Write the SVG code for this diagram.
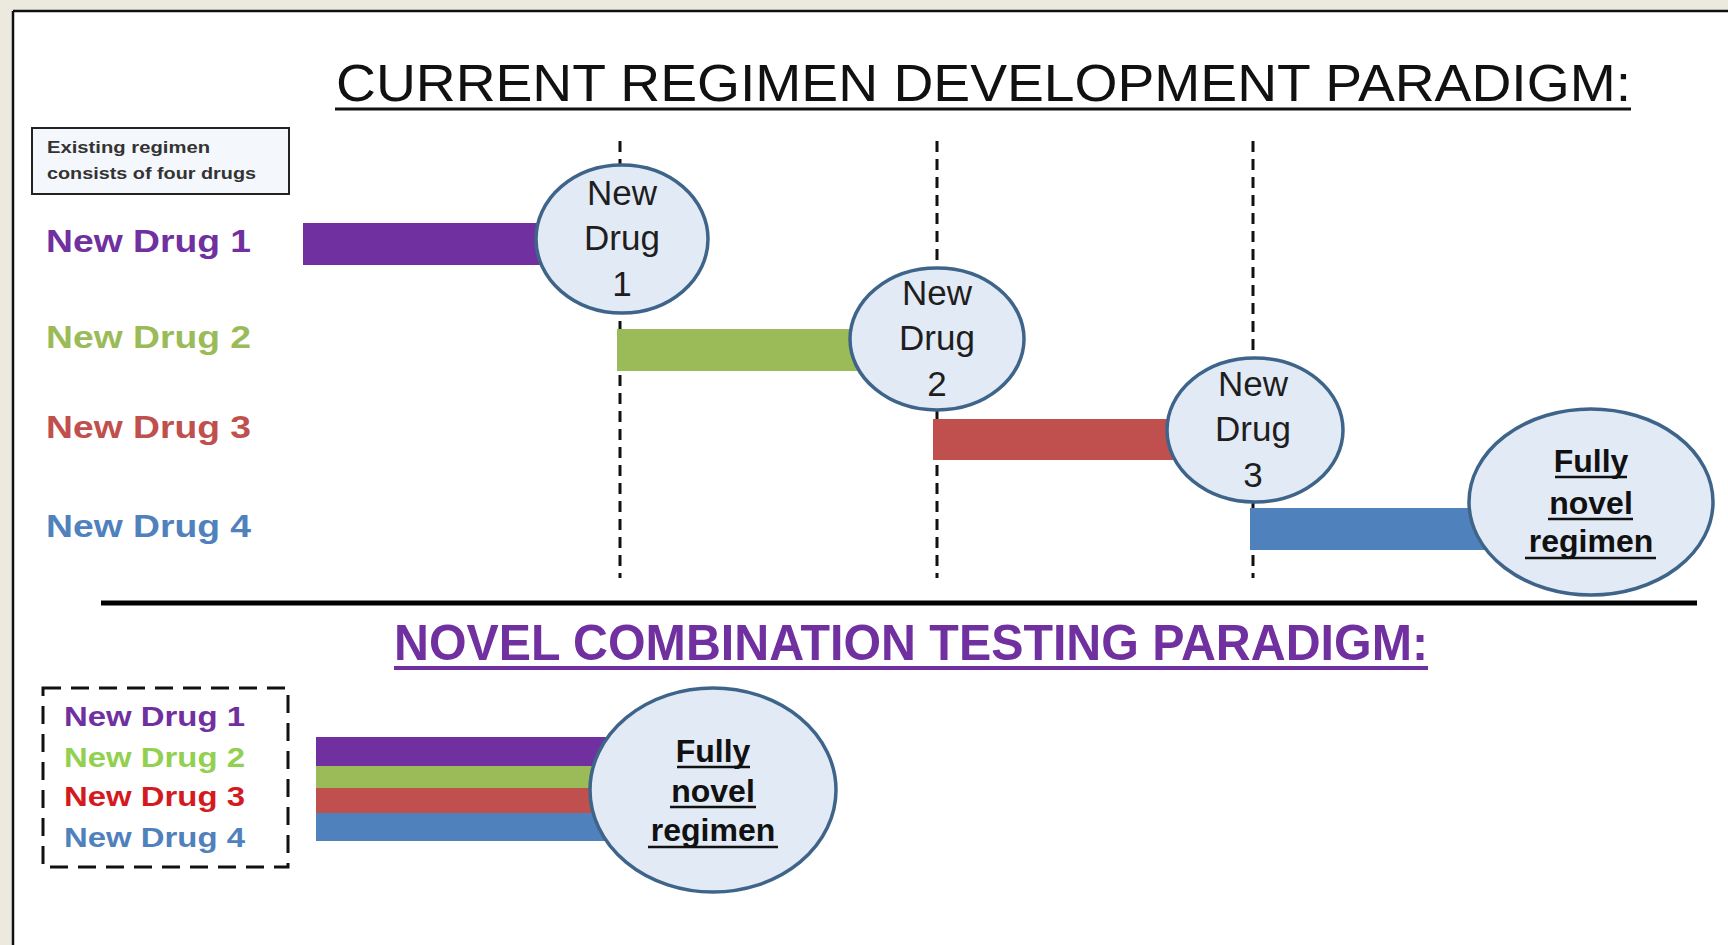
<svg xmlns="http://www.w3.org/2000/svg" width="1728" height="945" viewBox="0 0 1728 945">
  <style>
    .title { font-family: "Liberation Sans", Arial, sans-serif; font-size: 52px; fill: #111; }
    .title2 { font-family: "Liberation Sans", Arial, sans-serif; font-size: 50px; font-weight: bold; fill: #7030a0; }
    .lbl { font-family: "Liberation Sans", Arial, sans-serif; font-size: 32px; font-weight: bold; }
    .lbl-s { font-family: "Liberation Sans", Arial, sans-serif; font-size: 27px; font-weight: bold; }
    .note { font-family: "Liberation Sans", Arial, sans-serif; font-size: 17px; font-weight: bold; fill: #333; }
    .ctext { font-family: "Liberation Sans", Arial, sans-serif; font-size: 35px; fill: #1e1e1e; text-anchor: middle; }
    .ftext { font-family: "Liberation Sans", Arial, sans-serif; font-size: 32px; font-weight: bold; fill: #111; text-anchor: middle; }
    .ul { stroke: #111; stroke-width: 2.5; }
    .circle { fill: #e2eaf5; stroke: #3f6489; stroke-width: 3.5; }
    .guide { stroke: #111; stroke-width: 3; stroke-dasharray: 11 7; fill: none; }
    .c1 { fill: #7030a0; }
    .c2 { fill: #9bbb59; }
    .c3 { fill: #c0504d; }
    .c4 { fill: #4f81bd; }
  </style>

  <!-- page background and frame -->
  <rect x="0" y="0" width="1728" height="945" fill="#ece9de"/>
  <rect x="13" y="11" width="1715" height="934" fill="#ffffff"/>
  <line x1="13" y1="11" x2="1728" y2="11" stroke="#111" stroke-width="2.5"/>
  <line x1="13" y1="11" x2="13" y2="945" stroke="#111" stroke-width="2.5"/>

  <!-- upper section heading -->
  <g id="title-current">
    <text class="title" x="336" y="101" textLength="1295" lengthAdjust="spacingAndGlyphs">CURRENT REGIMEN DEVELOPMENT PARADIGM:</text>
    <line x1="335" y1="109" x2="1631" y2="109" stroke="#111" stroke-width="3"/>
  </g>

  <g id="note-existing">
    <rect x="32" y="128" width="257" height="66" fill="#f4f7fb" stroke="#222" stroke-width="2"/>
    <text class="note" x="47" y="153" textLength="163" lengthAdjust="spacingAndGlyphs">Existing regimen</text>
    <text class="note" x="47" y="179" textLength="209" lengthAdjust="spacingAndGlyphs">consists of four drugs</text>
  </g>

  <!-- row labels -->
  <g id="labels-sequential">
    <text class="lbl" x="46" y="252" fill="#7030a0" textLength="205" lengthAdjust="spacingAndGlyphs">New Drug 1</text>
    <text class="lbl" x="46" y="348" fill="#9bbb59" textLength="205" lengthAdjust="spacingAndGlyphs">New Drug 2</text>
    <text class="lbl" x="46" y="438" fill="#c0504d" textLength="205" lengthAdjust="spacingAndGlyphs">New Drug 3</text>
    <text class="lbl" x="46" y="537" fill="#4f81bd" textLength="205" lengthAdjust="spacingAndGlyphs">New Drug 4</text>
  </g>

  <!-- stage boundaries -->
  <g id="connectors">
    <line class="guide" x1="620" y1="141" x2="620" y2="578"/>
    <line class="guide" x1="937" y1="141" x2="937" y2="578"/>
    <line class="guide" x1="1253" y1="141" x2="1253" y2="578"/>
  </g>

  <!-- sequential drug bars -->
  <g id="bars-sequential">
    <rect class="c1" x="303" y="223" width="260" height="42"/>
    <rect class="c2" x="617" y="329" width="260" height="42"/>
    <rect class="c3" x="933" y="419" width="260" height="41"/>
    <rect class="c4" x="1250" y="508" width="260" height="42"/>
  </g>

  <g id="node-drug1">
    <ellipse class="circle" cx="622" cy="239" rx="86" ry="74"/>
    <text class="ctext" x="622" y="205">New</text>
    <text class="ctext" x="622" y="250">Drug</text>
    <text class="ctext" x="622" y="296">1</text>
  </g>
  <g id="node-drug2">
    <ellipse class="circle" cx="937" cy="339" rx="87" ry="71"/>
    <text class="ctext" x="937" y="305">New</text>
    <text class="ctext" x="937" y="350">Drug</text>
    <text class="ctext" x="937" y="396">2</text>
  </g>
  <g id="node-drug3">
    <ellipse class="circle" cx="1255" cy="430" rx="88" ry="72"/>
    <text class="ctext" x="1253" y="396">New</text>
    <text class="ctext" x="1253" y="441">Drug</text>
    <text class="ctext" x="1253" y="487">3</text>
  </g>
  <g id="node-regimen-sequential">
    <ellipse class="circle" cx="1591" cy="502" rx="122" ry="93"/>
    <text class="ftext" x="1591" y="472">Fully</text>
    <line class="ul" x1="1555" y1="477" x2="1627" y2="477"/>
    <text class="ftext" x="1591" y="514">novel</text>
    <line class="ul" x1="1548" y1="519" x2="1633" y2="519"/>
    <text class="ftext" x="1591" y="552">regimen</text>
    <line class="ul" x1="1525" y1="558" x2="1656" y2="558"/>
  </g>

  <!-- section divider -->
  <line x1="101" y1="603" x2="1697" y2="603" stroke="#000" stroke-width="5"/>

  <!-- lower section heading -->
  <g id="title-novel">
    <text class="title2" x="394" y="660" textLength="1034" lengthAdjust="spacingAndGlyphs">NOVEL COMBINATION TESTING PARADIGM:</text>
    <line x1="394" y1="668" x2="1428" y2="668" stroke="#7030a0" stroke-width="4"/>
  </g>

  <g id="legend-combination">
    <rect x="43" y="688" width="245" height="179" fill="none" stroke="#111" stroke-width="3" stroke-dasharray="18 10"/>
    <text class="lbl-s" x="64" y="726" fill="#7030a0" textLength="181" lengthAdjust="spacingAndGlyphs">New Drug 1</text>
    <text class="lbl-s" x="64" y="767" fill="#92d050" textLength="181" lengthAdjust="spacingAndGlyphs">New Drug 2</text>
    <text class="lbl-s" x="64" y="806" fill="#d41a1f" textLength="181" lengthAdjust="spacingAndGlyphs">New Drug 3</text>
    <text class="lbl-s" x="64" y="847" fill="#4f81bd" textLength="181" lengthAdjust="spacingAndGlyphs">New Drug 4</text>
  </g>

  <g id="bars-combination">
    <rect class="c1" x="316" y="737" width="300" height="29"/>
    <rect class="c2" x="316" y="766" width="300" height="22"/>
    <rect class="c3" x="316" y="788" width="300" height="25"/>
    <rect class="c4" x="316" y="813" width="300" height="28"/>
  </g>

  <g id="node-regimen-combination">
    <ellipse class="circle" cx="713" cy="790" rx="123" ry="102"/>
    <text class="ftext" x="713" y="762">Fully</text>
    <line class="ul" x1="677" y1="767" x2="750" y2="767"/>
    <text class="ftext" x="713" y="802">novel</text>
    <line class="ul" x1="670" y1="807" x2="756" y2="807"/>
    <text class="ftext" x="713" y="841">regimen</text>
    <line class="ul" x1="648" y1="847" x2="778" y2="847"/>
  </g>
</svg>
